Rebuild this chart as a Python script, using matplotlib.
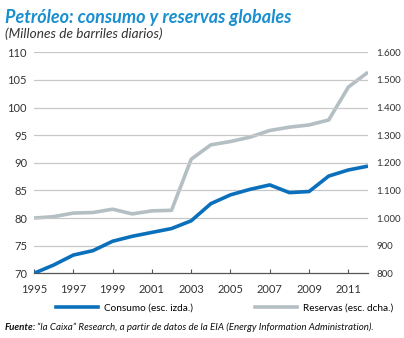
import matplotlib
matplotlib.use("Agg")
import matplotlib.pyplot as plt
from matplotlib.lines import Line2D

years = list(range(1995, 2013))
consumo = [70.0, 71.5, 73.3, 74.1, 75.8, 76.7, 77.4, 78.1, 79.5, 82.6,
           84.2, 85.2, 86.0, 84.6, 84.8, 87.6, 88.7, 89.4]
reservas = [1000, 1005, 1018, 1020, 1032, 1015, 1026, 1028, 1213, 1265,
            1277, 1293, 1317, 1329, 1337, 1355, 1474, 1528]
left_ticks = [70, 75, 80, 85, 90, 95, 100, 105, 110]
right_ticks = [800, 900, 1000, 1100, 1200, 1300, 1400, 1500, 1600]
right_labels = ["800", "900", "1.000", "1.100", "1.200", "1.300", "1.400", "1.500", "1.600"]
x_ticks = list(range(1995, 2012, 2))

title = "Petróleo: consumo y reservas globales"
subtitle = "(Millones de barriles diarios)"
label_c = "Consumo (esc. izda.)"
label_r = "Reservas (esc. dcha.)"

BLUE = "#0b70bb"
GRAY = "#b4bfc4"
TXT = "#333333"
FONT = ["Lato", "DejaVu Sans"]
plt.rcParams["font.family"] = FONT

fig = plt.figure(figsize=(4.04, 3.38), dpi=100)
ax = fig.add_axes([34/404, 1-273.3/338, (368-34)/404, (273.3-52.3)/338])
ax2 = ax.twinx()

ax.set_xlim(1995, 2012)
ax.set_ylim(70, 110)
ax2.set_ylim(800, 1600)

for t in left_ticks[1:]:
    ax.axhline(t, color="#c8c8c8", lw=0.9, zorder=0)

ax2.plot(years, reservas, color=GRAY, lw=2.6, solid_capstyle="butt", zorder=2)
ax.plot(years, consumo, color=BLUE, lw=2.6, solid_capstyle="butt", zorder=3)
ax.set_zorder(ax2.get_zorder() + 1)
ax.patch.set_visible(False)

for a in (ax, ax2):
    for s in a.spines.values():
        s.set_visible(False)
ax.spines["bottom"].set_visible(True)
ax.spines["bottom"].set_color("#555555")
ax.spines["bottom"].set_linewidth(0.9)

ax.set_xticks(x_ticks)
ax.set_xticklabels([str(y) for y in x_ticks])
ax.tick_params(axis="x", direction="in", length=3, width=0.8, color="#555555",
               labelsize=8, labelcolor=TXT, pad=8)
ax.set_yticks(left_ticks)
ax.set_yticklabels([str(t) for t in left_ticks])
ax.tick_params(axis="y", length=0, labelsize=8, labelcolor=TXT, pad=5)
ax2.set_yticks(right_ticks)
ax2.set_yticklabels(right_labels)
ax2.tick_params(axis="y", length=0, labelsize=7, labelcolor=TXT, pad=6)

fig.text(5/404, 1-17/338, title, fontsize=13, fontweight="bold", fontstyle="italic",
         color="#1a8fd0", va="center", ha="left")
fig.text(5/404, 1-34/338, subtitle, fontsize=9.8, fontstyle="italic",
         color=TXT, va="center", ha="left")

handles = [Line2D([0], [0], color=BLUE, lw=2.6), Line2D([0], [0], color=GRAY, lw=2.6)]
fig.legend(handles, [label_c, label_r], loc="center", bbox_to_anchor=(0.556, 1-308/338),
           ncol=2, frameon=False, fontsize=7.2, handlelength=4.2, columnspacing=6.2,
           handletextpad=0.6)

fig.text(5/404, 1-327/338, "Fuente:", fontsize=7, fontweight="bold", fontstyle="italic",
         color="#111111", va="center", ha="left")
fig.text(37/404, 1-327/338,
         "“la Caixa” Research, a partir de datos de la EIA (Energy Information Administration).",
         fontsize=7, fontstyle="italic", color="#111111", va="center", ha="left")

fig.savefig("out.png", dpi=100)
